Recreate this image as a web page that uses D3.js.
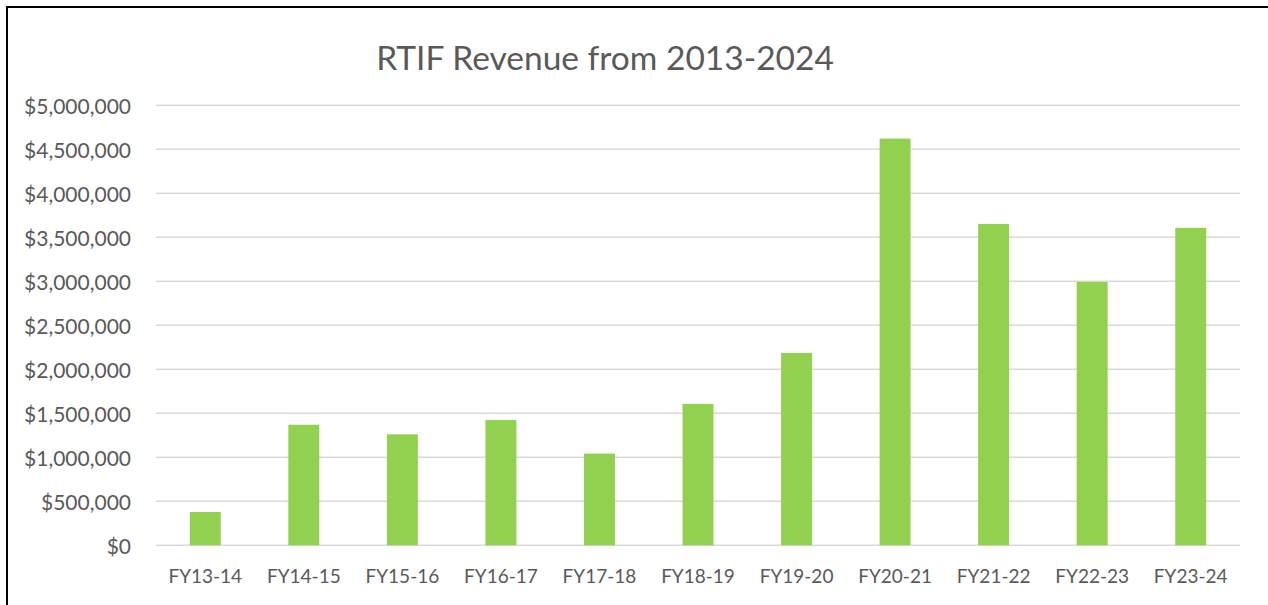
<!DOCTYPE html>
<html>
<head>
<meta charset="utf-8">
<script src="https://cdn.jsdelivr.net/npm/d3@7"></script>
<style>
  body { margin: 0; background: #fff; }
  svg { display: block; font-family: Lato, "Open Sans", sans-serif; }
</style>
</head>
<body>
<svg width="1268" height="605"></svg>
<script>
// data
const years = ["FY13-14", "FY14-15", "FY15-16", "FY16-17", "FY17-18", "FY18-19",
  "FY19-20", "FY20-21", "FY21-22", "FY22-23", "FY23-24"];
const revenue = [378000, 1370000, 1261000, 1424000, 1042000, 1607000,
  2186000, 4622000, 3652000, 2993000, 3607000];
const yTicks = [0, 500000, 1000000, 1500000, 2000000, 2500000, 3000000, 3500000, 4000000, 4500000, 5000000];
const chartTitle = "RTIF Revenue from 2013-2024";

const svg = d3.select("svg");
const margin = { left: 156, right: 28, top: 105.3, bottom: 59.7 };
const width = +svg.attr("width");
const height = +svg.attr("height");

// frame (left + top edges of the chart box)
svg.append("path")
  .attr("d", `M7,${height} V7 H${width}`)
  .attr("fill", "none")
  .attr("stroke", "#000")
  .attr("stroke-width", 2);

const x = d3.scaleBand()
  .domain(years)
  .range([margin.left, width - margin.right])
  .paddingInner(0.686)
  .paddingOuter(0.343);

const y = d3.scaleLinear()
  .domain([0, 5000000])
  .range([height - margin.bottom, margin.top]);

// gridlines
svg.append("g")
  .selectAll("line")
  .data(yTicks)
  .join("line")
  .attr("x1", margin.left)
  .attr("x2", width - margin.right)
  .attr("y1", d => y(d))
  .attr("y2", d => y(d))
  .attr("stroke", "#d9d9d9")
  .attr("stroke-width", 1.5);

// y axis labels
const fmt = d3.format("$,");
const yAxis = svg.append("g")
  .attr("transform", `translate(${margin.left},0)`)
  .call(d3.axisLeft(y).tickValues(yTicks).tickFormat(d => fmt(d)).tickSize(0).tickPadding(25));
yAxis.select(".domain").remove();
yAxis.selectAll("text")
  .attr("dy", 8)
  .attr("fill", "#595959")
  .attr("font-size", 21)
  .attr("font-family", "Lato, sans-serif");

// bars
svg.append("g")
  .selectAll("rect")
  .data(revenue)
  .join("rect")
  .attr("x", (d, i) => x(years[i]))
  .attr("width", x.bandwidth())
  .attr("y", d => y(d))
  .attr("height", d => y(0) - y(d))
  .attr("fill", "#92d050");

// x axis labels
const xAxis = svg.append("g")
  .attr("transform", `translate(0,${y(0)})`)
  .call(d3.axisBottom(x).tickSize(0));
xAxis.select(".domain").remove();
xAxis.selectAll("text")
  .attr("y", 38)
  .attr("dy", 0)
  .attr("fill", "#595959")
  .attr("font-size", 19)
  .attr("font-family", "Lato, sans-serif");

// title
svg.append("text")
  .attr("x", 605)
  .attr("y", 69.5)
  .attr("text-anchor", "middle")
  .attr("fill", "#595959")
  .attr("font-size", 33.5)
  .text(chartTitle);
</script>
</body>
</html>
